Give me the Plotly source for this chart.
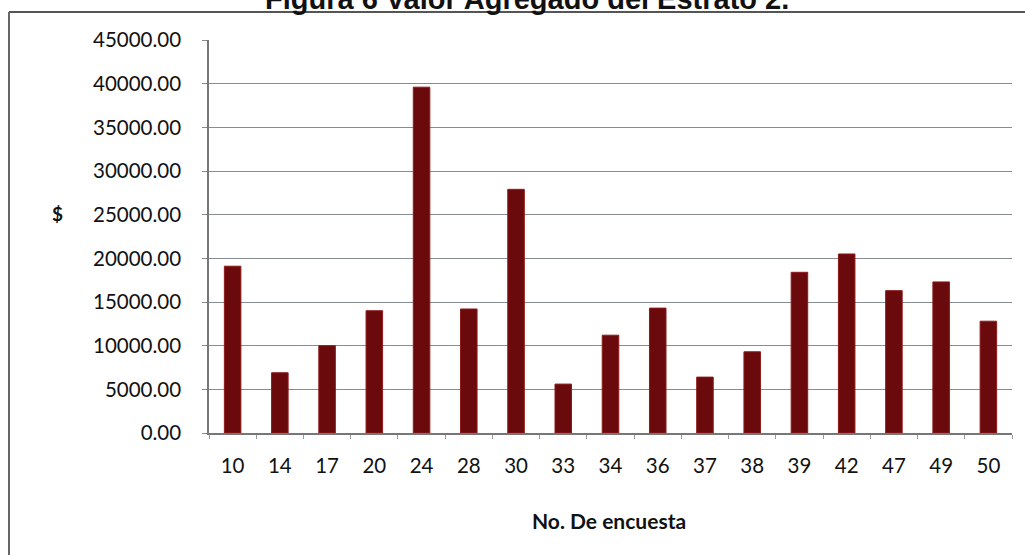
import plotly.graph_objects as go

categories = ["10", "14", "17", "20", "24", "28", "30", "33", "34", "36", "37", "38", "39", "42", "47", "49", "50"]
values = [19100, 6900, 10000, 14000, 39600, 14200, 27900, 5600, 11200, 14300, 6400, 9300, 18400, 20500, 16300, 17300, 12800]
y_ticks = [0, 5000, 10000, 15000, 20000, 25000, 30000, 35000, 40000, 45000]

title_text = "Figura 6 Valor Agregado del Estrato 2."
y_title = "$"
x_title = "No. De encuesta"

W, H = 1025, 555
L, R, T, B = 209, 13, 40, 122
pw, ph = W - L - R, H - T - B

def px(x):
    return (x - L) / pw

def py(y):
    return (H - B - y) / ph

fig = go.Figure(go.Bar(
    x=categories, y=values,
    marker=dict(color="#6a0a0c", line=dict(color="#8e1a1a", width=1)),
    width=0.35,
))

label_font = dict(family="Lato", size=20.5, color="#111111")

fig.update_layout(
    width=W, height=H,
    margin=dict(l=L, r=R, t=T, b=B, autoexpand=False),
    paper_bgcolor="white", plot_bgcolor="white",
    showlegend=False,
    xaxis=dict(type="category", showgrid=False, showline=True, linecolor="#777777", linewidth=1.5,
               ticks="outside", ticklen=4, tickcolor="#999999", tickson="boundaries",
               tickfont=label_font, ticklabelstandoff=14),
    yaxis=dict(range=[0, 45000], tickvals=y_ticks, tickformat=".2f",
               showgrid=True, gridcolor="#858d93", gridwidth=1,
               showline=True, linecolor="#777777", linewidth=1.5,
               ticks="outside", ticklen=5, tickcolor="#888888",
               tickfont=label_font, ticklabelstandoff=17, zeroline=False),
    annotations=[
        dict(text="<b>" + title_text + "</b>", xref="paper", yref="paper", x=px(527), y=py(-1),
             xanchor="center", yanchor="middle", showarrow=False,
             font=dict(family="Liberation Sans", size=29, color="#111111")),
        dict(text="<b>" + y_title + "</b>", xref="paper", yref="paper", x=px(57), y=py(213),
             xanchor="center", yanchor="middle", showarrow=False,
             font=dict(family="Lato", size=19, color="#111111")),
        dict(text="<b>" + x_title + "</b>", xref="paper", yref="paper", x=px(609), y=py(520),
             xanchor="center", yanchor="middle", showarrow=False,
             font=dict(family="Lato", size=21, color="#111111")),
    ],
    shapes=[
        dict(type="line", xref="paper", yref="paper", x0=px(9), x1=px(1025), y0=py(12), y1=py(12),
             line=dict(color="#555555", width=2)),
        dict(type="line", xref="paper", yref="paper", x0=px(9), x1=px(9), y0=py(12), y1=py(560),
             line=dict(color="#666666", width=2)),
    ],
)

fig.write_html("out.html", config={"displayModeBar": False},
               post_script="document.body.style.margin='0';")
